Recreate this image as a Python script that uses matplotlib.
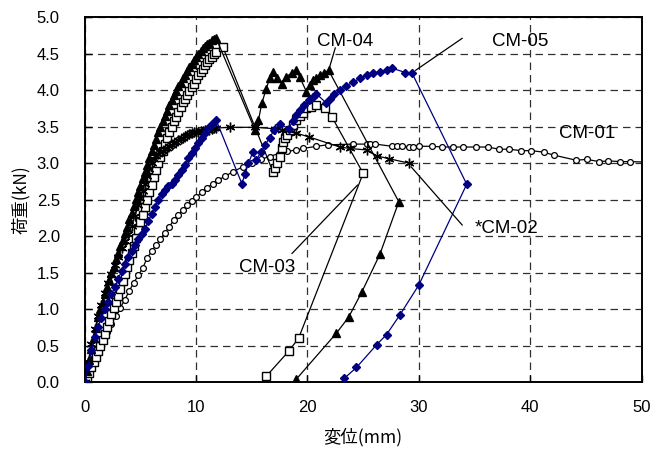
import matplotlib
matplotlib.use("Agg")
import matplotlib.pyplot as plt

# CM-01 (open circles)
x01 = [0, 0.4, 0.8, 1.2, 1.6, 2.0, 2.4, 2.8, 3.2, 3.6, 4.0, 4.4, 4.8, 5.2, 5.6, 6.0, 6.4, 6.8, 7.2, 7.6,
       8.0, 8.4, 8.8, 9.2, 9.6, 10.0, 10.5, 11.0, 11.5, 12.0, 12.6, 13.3, 14.2, 15.0, 15.8, 16.6, 17.4, 18.2,
       19.0, 19.6, 20.8, 21.8, 24.1, 25.3, 25.6, 26.1, 27.6, 28.0, 28.5, 29.1, 29.5, 30.0, 31.2, 32.1, 33.1,
       34.0, 35.1, 36.2, 37.2, 38.1, 39.2, 40.1, 41.2, 42.1, 44.1, 45.1, 46.2, 47.0, 48.1, 49.0, 51.0]
y01 = [0, 0.18, 0.34, 0.48, 0.59, 0.69, 0.8, 0.91, 1.02, 1.13, 1.25, 1.36, 1.46, 1.56, 1.7, 1.79, 1.88, 1.96, 2.04, 2.13,
       2.22, 2.29, 2.36, 2.42, 2.48, 2.53, 2.6, 2.66, 2.72, 2.77, 2.82, 2.88, 2.95, 3.0, 3.05, 3.09, 3.13, 3.16,
       3.18, 3.2, 3.23, 3.25, 3.26, 3.26, 3.26, 3.26, 3.23, 3.23, 3.23, 3.22, 3.22, 3.23, 3.23, 3.22, 3.22,
       3.22, 3.22, 3.22, 3.19, 3.19, 3.17, 3.17, 3.15, 3.11, 3.04, 3.05, 3.02, 3.03, 3.02, 3.02, 3.01]

# CM-02 (asterisks)
x02 = [0, 0.3, 0.6, 0.9, 1.2, 1.5, 1.8, 2.1, 2.4, 2.7, 3.0, 3.3, 3.6, 3.9, 4.2, 4.5, 4.8,
       5.0, 5.2, 5.4, 5.6, 5.8, 6.0, 6.2, 6.4, 6.6, 6.8, 7.0, 7.2, 7.4, 7.6, 7.8, 8.0, 8.2, 8.4, 8.6, 8.8,
       9.0, 9.2, 9.4, 9.6, 9.8, 10.0, 10.2, 10.4, 10.6, 10.8, 11.0, 11.2, 11.4, 11.6, 11.8,
       13.0, 15.3, 17.1, 17.7, 19.0, 20.1, 22.9, 23.8, 25.3, 26.2, 27.3, 29.1]
y02 = [0, 0.27, 0.52, 0.72, 0.9, 1.06, 1.22, 1.36, 1.48, 1.6, 1.72, 1.83, 1.93, 2.03, 2.14, 2.27, 2.42,
       2.52, 2.62, 2.72, 2.82, 2.92, 3.0, 3.06, 3.1, 3.12, 3.15, 3.17, 3.19, 3.21, 3.23, 3.25, 3.27, 3.29, 3.31, 3.33, 3.35,
       3.37, 3.38, 3.4, 3.41, 3.42, 3.42, 3.43, 3.44, 3.44, 3.45, 3.46, 3.46, 3.47, 3.48, 3.48,
       3.49, 3.49, 3.47, 3.45, 3.41, 3.36, 3.22, 3.2, 3.18, 3.1, 3.06, 3.0]

# CM-03 (open squares)
x03 = [0, 0.2, 0.4, 0.6, 0.8, 1.0, 1.2, 1.4, 1.6, 1.8, 2.0, 2.2, 2.4, 2.6, 2.8, 3.0, 3.2, 3.4, 3.6, 3.8,
       4.0, 4.2, 4.4, 4.6, 4.8, 5.0, 5.2, 5.4, 5.6, 5.8, 6.0, 6.2, 6.4, 6.6, 6.8, 7.0, 7.2, 7.4, 7.6, 7.8,
       8.0, 8.2, 8.4, 8.6, 8.8, 9.0, 9.2, 9.4, 9.6, 9.8, 10.0, 10.2, 10.4, 10.6, 10.8, 11.0, 11.2, 11.4, 11.6, 11.8, 12.4,
       16.9, 17.1, 17.3, 17.5, 17.7, 17.8, 18.0, 18.2, 18.4, 18.7, 19.0, 19.3, 19.6, 19.9, 20.3, 20.8, 21.6, 22.2,
       25.0, 19.2, 18.3, 16.3]
y03 = [0, 0.07, 0.13, 0.2, 0.27, 0.34, 0.42, 0.5, 0.58, 0.66, 0.75, 0.84, 0.93, 1.01, 1.09, 1.18, 1.28, 1.38, 1.48, 1.57,
       1.67, 1.77, 1.87, 1.97, 2.08, 2.19, 2.29, 2.4, 2.5, 2.6, 2.7, 2.81, 2.91, 3.0, 3.09, 3.17, 3.26, 3.34, 3.42, 3.5,
       3.57, 3.63, 3.7, 3.77, 3.83, 3.88, 3.93, 3.99, 4.04, 4.09, 4.15, 4.2, 4.25, 4.29, 4.34, 4.38, 4.42, 4.46, 4.49, 4.52, 4.59,
       2.88, 2.93, 3.0, 3.09, 3.2, 3.29, 3.34, 3.38, 3.45, 3.52, 3.59, 3.64, 3.69, 3.75, 3.77, 3.79, 3.75, 3.63,
       2.86, 0.6, 0.42, 0.08]

# CM-04 (filled triangles)
x04 = [0, 0.2, 0.4, 0.6, 0.8, 1.0, 1.2, 1.4, 1.6, 1.8, 2.0, 2.2, 2.4, 2.6, 2.8, 3.0, 3.2, 3.4, 3.6, 3.8,
       4.0, 4.2, 4.4, 4.6, 4.8, 5.0, 5.2, 5.4, 5.6, 5.8, 6.0, 6.2, 6.4, 6.6, 6.8, 7.0, 7.2, 7.4, 7.6, 7.8,
       8.0, 8.2, 8.4, 8.6, 8.8, 9.0, 9.2, 9.4, 9.6, 9.8, 10.0, 10.2, 10.4, 10.6, 10.8, 11.0, 11.2, 11.4, 11.6, 11.8,
       15.3, 15.6, 15.9, 16.3, 16.6, 16.9, 17.3, 17.7, 18.1, 18.6, 19.0, 19.3, 19.9, 20.2, 20.5, 20.8, 21.1, 21.5, 21.9,
       28.2, 26.5, 24.9, 23.7, 22.6, 19.0]
y04 = [0, 0.15, 0.3, 0.45, 0.6, 0.74, 0.89, 1.0, 1.1, 1.2, 1.3, 1.4, 1.49, 1.58, 1.68, 1.77, 1.86, 1.95, 2.04, 2.13,
       2.23, 2.32, 2.41, 2.51, 2.6, 2.69, 2.79, 2.88, 2.97, 3.07, 3.16, 3.25, 3.33, 3.42, 3.5, 3.58, 3.65, 3.72, 3.79, 3.86,
       3.93, 3.99, 4.05, 4.1, 4.16, 4.21, 4.26, 4.31, 4.36, 4.41, 4.45, 4.49, 4.53, 4.57, 4.6, 4.63, 4.65, 4.68, 4.7, 4.71,
       3.45, 3.59, 3.82, 4.02, 4.16, 4.25, 4.17, 4.09, 4.18, 4.24, 4.27, 4.18, 3.98, 4.07, 4.14, 4.17, 4.2, 4.24, 4.27,
       2.47, 1.75, 1.24, 0.89, 0.67, 0.04]

# CM-05 (navy diamonds)
x05 = [0, 0.3, 0.6, 0.9, 1.2, 1.5, 1.8, 2.1, 2.4, 2.7, 3.0, 3.3, 3.6, 3.9, 4.2, 4.5, 4.8, 5.1, 5.4, 5.7,
       6.0, 6.3, 6.6, 6.9, 7.2, 7.5, 7.8, 8.1, 8.4, 8.7, 9.0, 9.3, 9.6, 9.9, 10.2, 10.5, 10.8, 11.1, 11.4, 11.8,
       14.1, 14.4, 14.7, 15.1, 15.4, 15.8, 16.2, 16.6, 17.0, 17.5, 18.3, 18.7, 19.0, 19.3, 19.7, 20.1, 20.5, 20.8,
       21.7, 22.0, 22.4, 22.9, 23.5, 24.1, 24.7, 25.3, 25.9, 26.5, 27.1, 27.6, 28.8, 29.4,
       34.3, 30.0, 28.3, 27.1, 26.2, 24.4, 23.3]
y05 = [0, 0.22, 0.44, 0.62, 0.76, 0.88, 1.0, 1.1, 1.2, 1.3, 1.41, 1.52, 1.62, 1.71, 1.8, 1.88, 1.96, 2.03, 2.1, 2.2,
       2.3, 2.4, 2.5, 2.57, 2.63, 2.68, 2.72, 2.77, 2.83, 2.9, 2.98, 3.07, 3.14, 3.2, 3.27, 3.34, 3.41, 3.48, 3.53, 3.59,
       2.72, 2.85, 3.0, 3.15, 3.04, 3.15, 3.25, 3.35, 3.45, 3.54, 3.47, 3.58, 3.66, 3.73, 3.8, 3.86, 3.91, 3.95,
       3.82, 3.88, 3.94, 4.0, 4.06, 4.11, 4.16, 4.21, 4.23, 4.25, 4.27, 4.3, 4.24, 4.23,
       2.71, 1.33, 0.92, 0.65, 0.51, 0.2, 0.05]

xticks = [0, 10, 20, 30, 40, 50]
yticks = [0.0, 0.5, 1.0, 1.5, 2.0, 2.5, 3.0, 3.5, 4.0, 4.5, 5.0]

# label text, label centre, leader (start, end)
labels = [
    ("CM-01", (45.1, 3.40), None),
    ("*CM-02", (37.9, 2.11), ((29.3, 2.95), (33.9, 2.15))),
    ("CM-03", (16.4, 1.57), ((24.5, 2.70), (18.6, 1.76))),
    ("CM-04", (23.4, 4.66), ((21.9, 4.27), (22.5, 4.58))),
    ("CM-05", (39.1, 4.66), ((29.7, 4.27), (33.9, 4.71))),
]

plt.rcParams['font.family'] = ['Liberation Sans', 'DejaVu Sans']
cjk = ['Noto Sans CJK JP', 'Liberation Sans']

fig = plt.figure(figsize=(6.52, 4.50), dpi=100)
ax = fig.add_axes([0.130, 0.151, 0.854, 0.811])

ax.plot(x01, y01, '-o', color='k', lw=0.9, ms=4.2, mfc='white', mec='k', mew=0.9, zorder=3)
ax.plot(x03, y03, '-s', color='k', lw=0.9, ms=6.0, mfc='white', mec='k', mew=1.0, zorder=4)
ax.plot(x04, y04, '-^', color='k', lw=0.9, ms=5.5, mfc='k', mec='k', zorder=5)
ax.plot(x02, y02, '-', color='k', lw=0.9, marker=(6, 2, 0), ms=7, mew=1.0, zorder=6)
ax.plot(x05, y05, '-D', color='#000080', lw=0.9, ms=4.0, mfc='#000080', mec='#000080', zorder=7)

for text, (tx, ty), leader in labels:
    ax.text(tx, ty, text, fontsize=13.5, ha='center', va='center', zorder=8)
    if leader:
        ax.annotate('', xy=leader[0], xytext=leader[1],
                    arrowprops=dict(arrowstyle='-', lw=0.9, color='k', shrinkA=0, shrinkB=0), zorder=8)

ax.set_xlim(0, 50)
ax.set_ylim(0, 5)
ax.set_xticks(xticks)
ax.set_yticks(yticks)
ax.set_xticklabels([str(v) for v in xticks], fontsize=12)
ax.set_yticklabels([f"{v:.1f}" for v in yticks], fontsize=12)
ax.tick_params(direction='in', length=5, width=1, pad=13, axis='x')
ax.tick_params(direction='in', length=5, width=1, pad=18, axis='y')
ax.grid(True, color='#303030', linestyle=(0, (6, 4)), linewidth=0.9)
ax.set_axisbelow(True)
for s in ax.spines.values():
    s.set_linewidth(1.4)

ax.set_xlabel('変位(mm)', family=cjk, fontsize=12.5)
ax.set_ylabel('荷重(kN)', family=cjk, fontsize=12.5)
ax.xaxis.set_label_coords(0.5, -0.125)
ax.yaxis.set_label_coords(-0.098, 0.5)

fig.savefig('out.png', dpi=100)
